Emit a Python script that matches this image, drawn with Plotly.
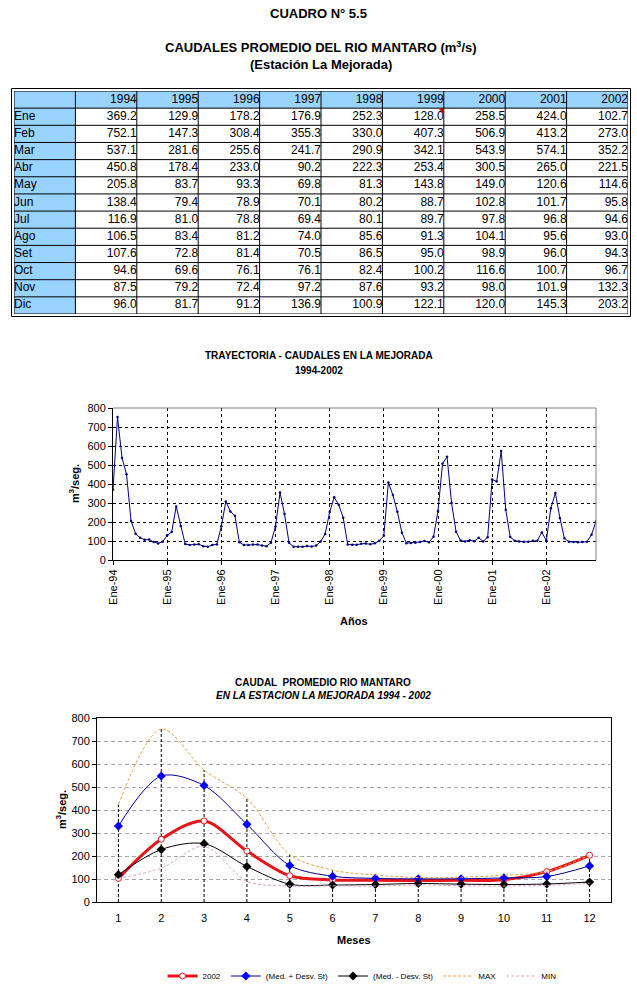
import plotly.graph_objects as go

# ---------------- data ----------------
months = ["Ene", "Feb", "Mar", "Abr", "May", "Jun", "Jul", "Ago", "Set", "Oct", "Nov", "Dic"]
years = ["1994", "1995", "1996", "1997", "1998", "1999", "2000", "2001", "2002"]

q1994 = [369.2, 752.1, 537.1, 450.8, 205.8, 138.4, 116.9, 106.5, 107.6, 94.6, 87.5, 96.0]
q1995 = [129.9, 147.3, 281.6, 178.4, 83.7, 79.4, 81.0, 83.4, 72.8, 69.6, 79.2, 81.7]
q1996 = [178.2, 308.4, 255.6, 233.0, 93.3, 78.9, 78.8, 81.2, 81.4, 76.1, 72.4, 91.2]
q1997 = [176.9, 355.3, 241.7, 90.2, 69.8, 70.1, 69.4, 74.0, 70.5, 76.1, 97.2, 136.9]
q1998 = [252.3, 330.0, 290.9, 222.3, 81.3, 80.2, 80.1, 85.6, 86.5, 82.4, 87.6, 100.9]
q1999 = [128.0, 407.3, 342.1, 253.4, 143.8, 88.7, 89.7, 91.3, 95.0, 100.2, 93.2, 122.1]
q2000 = [258.5, 506.9, 543.9, 300.5, 149.0, 102.8, 97.8, 104.1, 98.9, 116.6, 98.0, 120.0]
q2001 = [424.0, 413.2, 574.1, 265.0, 120.6, 101.7, 96.8, 95.6, 96.0, 100.7, 101.9, 145.3]
q2002 = [102.7, 273.0, 352.2, 221.5, 114.6, 95.8, 94.6, 93.0, 94.3, 96.7, 132.3, 203.2]

year_ticks = ["Ene-94", "Ene-95", "Ene-96", "Ene-97", "Ene-98", "Ene-99", "Ene-00", "Ene-01", "Ene-02"]

month_numbers = [1, 2, 3, 4, 5, 6, 7, 8, 9, 10, 11, 12]
med_plus = [329.9, 547.9, 506.3, 337.7, 158.6, 112.1, 102.7, 100.6, 100.9, 104.7, 110.4, 157.0]
med_minus = [118.9, 228.4, 253.6, 154.5, 77.4, 73.7, 76.2, 80.5, 77.6, 76.0, 78.3, 86.9]
q_max = [424.0, 752.1, 574.1, 450.8, 205.8, 138.4, 116.9, 106.5, 107.6, 116.6, 132.3, 203.2]
q_min = [102.7, 147.3, 241.7, 90.2, 69.8, 70.1, 69.4, 74.0, 70.5, 69.6, 72.4, 81.7]

# ---------------- helpers ----------------
W, H = 637, 999


def px(x):
    return x / W


def py(y):
    return 1 - y / H


year_cols = [q1994, q1995, q1996, q1997, q1998, q1999, q2000, q2001, q2002]
LB = "#99D3FF"
FONT = "Arial, Liberation Sans, sans-serif"
tickfont = dict(family=FONT, size=11, color="black")
cellfont = dict(family=FONT, size=12, color="black")

fig = go.Figure()

# ---------------- table (drawn on its own hidden axes x3/y3) ----------------
n_cols = len(years) + 1
n_rows = len(months) + 1
fig.add_shape(type="rect", xref="x3", yref="y3", x0=0, x1=n_cols, y0=0, y1=1,
              fillcolor=LB, line=dict(width=0), layer="below")
fig.add_shape(type="rect", xref="x3", yref="y3", x0=0, x1=1, y0=0, y1=n_rows,
              fillcolor=LB, line=dict(width=0), layer="below")
for c in range(n_cols + 1):
    fig.add_shape(type="line", xref="x3", yref="y3", x0=c, x1=c, y0=0, y1=n_rows,
                  line=dict(color="black", width=1))
for r in range(n_rows + 1):
    fig.add_shape(type="line", xref="x3", yref="y3", x0=0, x1=n_cols, y0=r, y1=r,
                  line=dict(color="black", width=1))
fig.add_trace(go.Scatter(
    x=[j + 2 for j in range(len(years))], y=[0.5] * len(years), text=years,
    mode="text", textposition="middle left", textfont=cellfont,
    xaxis="x3", yaxis="y3", showlegend=False, hoverinfo="skip",
))
fig.add_trace(go.Scatter(
    x=[0] * len(months), y=[i + 1.5 for i in range(len(months))], text=months,
    mode="text", textposition="middle right", textfont=cellfont,
    xaxis="x3", yaxis="y3", showlegend=False, hoverinfo="skip",
))
for j, col in enumerate(year_cols):
    fig.add_trace(go.Scatter(
        x=[j + 2] * len(col), y=[i + 1.5 for i in range(len(col))],
        text=[f"{v:.1f}" for v in col],
        mode="text", textposition="middle left", textfont=cellfont,
        xaxis="x3", yaxis="y3", showlegend=False, hoverinfo="skip",
    ))
c99 = years.index("1999") + 2
fig.add_shape(type="path", xref="x3", yref="y3",
              path=f"M {c99 - 0.09} 1 L {c99} 1 L {c99} 1.32 Z",
              fillcolor="#CC0000", line=dict(width=0))

# ---------------- time series chart ----------------
ts_x = [f"{m}-{y[2:]}" for y in years for m in months]
ts_y = [v for col in year_cols for v in col]

fig.add_trace(go.Scatter(
    x=ts_x, y=ts_y, mode="lines+markers",
    line=dict(color="#000080", width=1),
    marker=dict(color="#000080", size=2.5),
    xaxis="x", yaxis="y", showlegend=False,
))

# ---------------- monthly chart ----------------
drop_x, drop_y = [], []
for m, v in zip(month_numbers, q_max):
    drop_x += [m, m, None]
    drop_y += [0, v, None]
fig.add_trace(go.Scatter(
    x=drop_x, y=drop_y, mode="lines",
    line=dict(color="black", width=1, dash="3px,2px"),
    xaxis="x2", yaxis="y2", showlegend=False, hoverinfo="skip",
))

fig.add_trace(go.Scatter(
    x=month_numbers, y=q2002, name="2002", mode="lines+markers",
    line=dict(color="#E8141B", width=3, shape="spline", smoothing=0.9),
    marker=dict(symbol="circle", size=6, color="white", line=dict(color="#E8141B", width=1)),
    xaxis="x2", yaxis="y2",
))
fig.add_trace(go.Scatter(
    x=month_numbers, y=med_plus, name="(Med. + Desv. St)", mode="lines+markers",
    line=dict(color="#000099", width=1, shape="spline", smoothing=0.9),
    marker=dict(symbol="diamond", size=7, color="#0000FF"),
    xaxis="x2", yaxis="y2",
))
fig.add_trace(go.Scatter(
    x=month_numbers, y=med_minus, name="(Med. - Desv. St)", mode="lines+markers",
    line=dict(color="black", width=1, shape="spline", smoothing=0.9),
    marker=dict(symbol="diamond", size=7, color="black"),
    xaxis="x2", yaxis="y2",
))
fig.add_trace(go.Scatter(
    x=month_numbers, y=q_max, name="MAX", mode="lines",
    line=dict(color="#E6A23C", width=1, dash="3px,2px", shape="spline", smoothing=0.9),
    xaxis="x2", yaxis="y2",
))
fig.add_trace(go.Scatter(
    x=month_numbers, y=q_min, name="MIN", mode="lines",
    line=dict(color="#DDA0C8", width=1, dash="3px,2px", shape="spline", smoothing=0.9),
    xaxis="x2", yaxis="y2",
))

fig.update_layout(
    width=W, height=H,
    margin=dict(l=0, r=0, t=0, b=0, autoexpand=False),
    paper_bgcolor="white", plot_bgcolor="white",
    font=dict(family=FONT, color="black"),
    xaxis=dict(
        domain=[px(113), px(596)], anchor="y", type="category",
        range=[0, len(ts_x) - 1],
        tickmode="array", tickvals=year_ticks, ticktext=year_ticks,
        tickangle=-90, ticks="outside", ticklen=4, tickcolor="black",
        showgrid=True, gridcolor="black", gridwidth=1, griddash="3px,3px",
        showline=True, linecolor="black", linewidth=1,
        tickfont=tickfont, fixedrange=True,
    ),
    yaxis=dict(
        domain=[py(560), py(408)], anchor="x",
        range=[0, 800], dtick=100, ticks="outside", ticklen=4, tickcolor="black",
        showgrid=True, gridcolor="black", gridwidth=1, griddash="3px,3px",
        showline=True, linecolor="black", linewidth=1, zeroline=False,
        tickfont=tickfont, fixedrange=True,
    ),
    xaxis2=dict(
        domain=[px(97), px(611)], anchor="y2",
        range=[0.5, 12.5], tickmode="array", tickvals=month_numbers,
        ticks="", showgrid=False, zeroline=False, ticklabelstandoff=6,
        showline=True, mirror=True, linecolor="black", linewidth=1,
        tickfont=tickfont, fixedrange=True,
    ),
    yaxis2=dict(
        domain=[py(902), py(718)], anchor="x2",
        range=[0, 800], dtick=100, ticks="outside", ticklen=4, tickcolor="black",
        showgrid=True, gridcolor="#A6A6A6", gridwidth=1, griddash="4px,3px",
        showline=True, mirror=True, linecolor="black", linewidth=1, zeroline=False,
        tickfont=tickfont, fixedrange=True,
    ),
    xaxis3=dict(domain=[px(14), px(628)], anchor="y3", range=[0, n_cols],
                visible=False, fixedrange=True),
    yaxis3=dict(domain=[py(314), py(91)], anchor="x3", range=[n_rows, 0],
                visible=False, fixedrange=True),
    legend=dict(
        orientation="h", x=px(362), xanchor="center", y=py(976), yanchor="middle",
        font=dict(family=FONT, size=8, color="black"),
        bgcolor="rgba(0,0,0,0)", itemwidth=30, tracegroupgap=0,
    ),
)

fig.add_shape(type="line", xref="x domain", yref="y domain", x0=0, x1=1, y0=1, y1=1,
              line=dict(color="#808080", width=1))
fig.add_shape(type="line", xref="x domain", yref="y domain", x0=1, x1=1, y0=0, y1=1,
              line=dict(color="#808080", width=1))

fig.add_shape(type="rect", xref="paper", yref="paper",
              x0=px(11.5), x1=px(630.5), y0=py(316.5), y1=py(88.5),
              line=dict(color="black", width=1))

ann = [
    dict(text="<b>CUADRO N° 5.5</b>", x=px(318), y=py(13), size=13),
    dict(text="<b>CAUDALES PROMEDIO DEL RIO MANTARO (m<sup>3</sup>/s)</b>", x=px(321), y=py(47), size=13),
    dict(text="<b>(Estación La Mejorada)</b>", x=px(321), y=py(65), size=13),
    dict(text="<b>TRAYECTORIA - CAUDALES EN LA MEJORADA</b>", x=px(319), y=py(355), size=10),
    dict(text="<b>1994-2002</b>", x=px(319), y=py(371), size=10),
    dict(text="<b>Años</b>", x=px(354), y=py(621), size=11),
    dict(text="<b>CAUDAL  PROMEDIO RIO MANTARO</b>", x=px(323), y=py(682), size=10),
    dict(text="<b><i>EN LA ESTACION LA MEJORADA 1994 - 2002</i></b>", x=px(323), y=py(695), size=10),
    dict(text="<b>Meses</b>", x=px(354), y=py(940), size=11),
]
for a in ann:
    fig.add_annotation(text=a["text"], x=a["x"], y=a["y"], xref="paper", yref="paper",
                       xanchor="center", yanchor="middle", showarrow=False,
                       font=dict(family=FONT, size=a["size"], color="black"))

for xx, yy in ((74, 484), (61, 810)):
    fig.add_annotation(text="<b>m<sup>3</sup>/seg.</b>", x=px(xx), y=py(yy), xref="paper", yref="paper",
                       xanchor="center", yanchor="middle", showarrow=False, textangle=-90,
                       font=dict(family=FONT, size=11, color="black"))

fig.write_html("out.html", config={"displayModeBar": False},
               post_script="document.body.style.margin='0';")
